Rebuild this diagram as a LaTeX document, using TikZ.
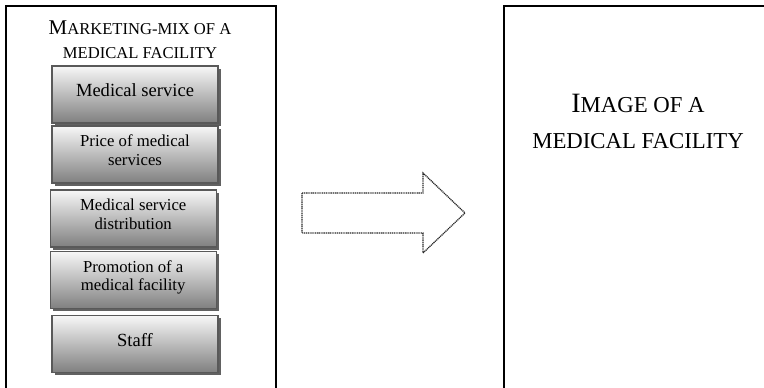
\documentclass[tikz,border=0pt]{standalone}
\usepackage{fontspec}
\setmainfont{Liberation Serif}
\usepackage{tikz}
\usetikzlibrary{positioning,shadows}
\tikzset{
  frame/.style   = {draw, line width=1.1pt},
  mixbox/.style  = {draw=black!65, line width=0.9pt, align=center,
                    top color=black!3, bottom color=black!50,
                    minimum width=4.15cm, minimum height=1.425cm, inner sep=2pt,
                    text depth=0.22cm,
                    drop shadow={shadow xshift=0.07cm, shadow yshift=-0.07cm,
                                 fill=black!62, opacity=1}},
  mixtxt/.style  = {font=\fontsize{13.2}{15}\selectfont},
  mixtxtsm/.style= {font=\fontsize{11.9}{13.5}\selectfont},
  flow/.style    = {draw=black!85, dash pattern=on 0.8pt off 0.5pt, line width=0.9pt},
}

\begin{document}
\begin{tikzpicture}
\useasboundingbox (0,0) rectangle (19.1,-9.7);

% outer frames (run off the bottom of the page)
\draw[frame] (0.15,-0.15) rectangle (6.9,-10.2);
\draw[frame] (12.6,-0.15) rectangle (19.6,-10.2);

\node[align=center, font=\fontsize{11.8}{17}\selectfont] (mixtitle) at (3.5,-1.0)
     {{\fontsize{14.9}{17}\selectfont M}ARKETING-MIX OF A\\
      MEDICAL FACILITY};

\node[mixbox, mixtxt]   (serv)  at (3.375,-2.36) {Medical service};
\node[mixbox, mixtxtsm] (price) at (3.375,-3.86) {Price of medical\\services};
\node[mixbox, mixtxtsm] (dist)  at (3.33,-5.46)  {Medical service\\distribution};
\node[mixbox, mixtxtsm] (promo) at (3.33,-7.0)   {Promotion of a\\medical facility};
\node[mixbox, mixtxt]   (staff) at (3.375,-8.6)  {Staff};

\node[align=center, font=\fontsize{16.2}{25.6}\selectfont] (image) at (15.95,-3.03)
     {{\fontsize{19.9}{25.6}\selectfont I}MAGE OF A\\
      MEDICAL FACILITY};

% block arrow between the frames
\coordinate (a0) at (7.55,-4.825);
\coordinate (a1) at (10.575,-4.825);
\coordinate (a2) at (10.575,-4.325);
\coordinate (tip) at (11.625,-5.325);
\coordinate (a3) at (10.575,-6.325);
\coordinate (a4) at (10.575,-5.825);
\coordinate (a5) at (7.55,-5.825);
\draw[flow] (a0) -- (a1) -- (a2) -- (tip) -- (a3) -- (a4) -- (a5) -- cycle;
\end{tikzpicture}
\end{document}
